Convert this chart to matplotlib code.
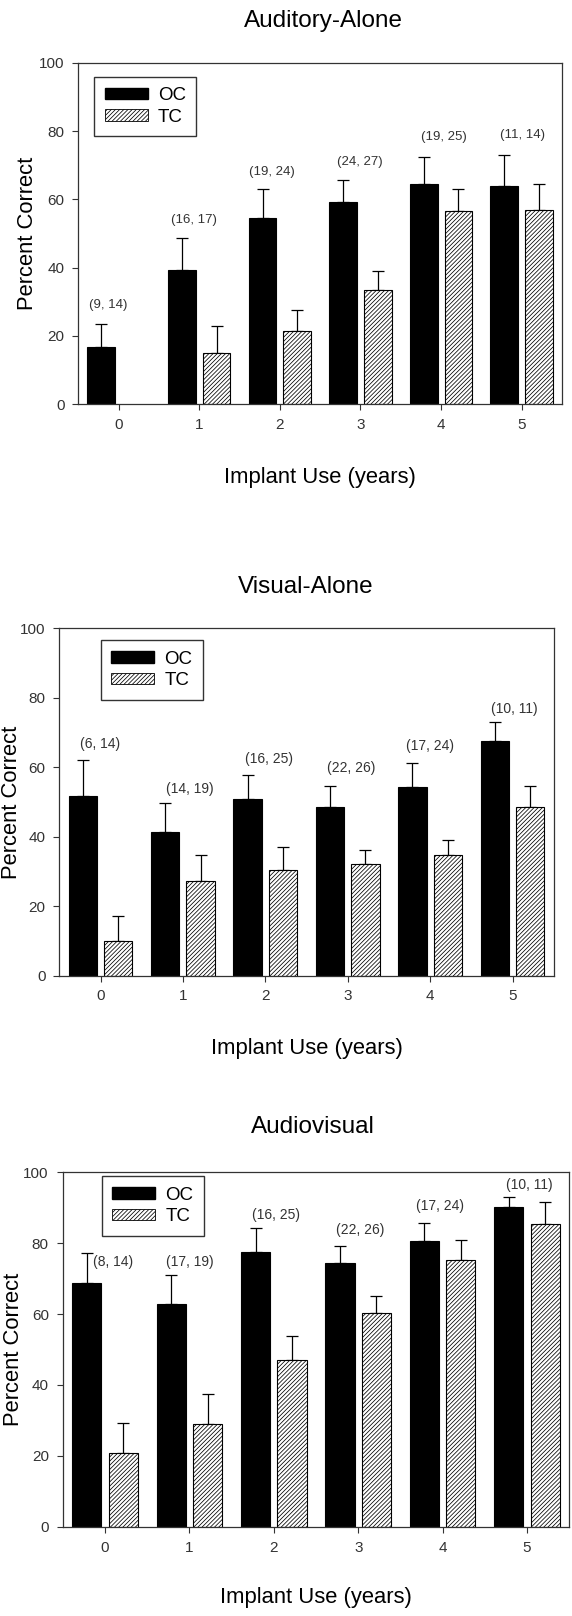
import numpy as np
import matplotlib
matplotlib.use("Agg")
import matplotlib.pyplot as plt
from matplotlib.patches import Patch

plt.rcParams['font.family'] = ['Liberation Sans', 'DejaVu Sans']
plt.rcParams['hatch.linewidth'] = 0.55

years = [0, 1, 2, 3, 4, 5]
year_labels = ['0', '1', '2', '3', '4', '5']
group_names = ['OC', 'TC']

# Auditory-Alone (mean, upper error)
aud_oc = [16.8, 39.4, 54.6, 59.1, 64.5, 63.8]
aud_oc_err = [6.6, 9.3, 8.5, 6.6, 8.0, 9.2]
aud_tc = [np.nan, 15.1, 21.6, 33.4, 56.7, 56.9]
aud_tc_err = [np.nan, 7.7, 6.1, 5.6, 6.4, 7.6]
aud_n = ['(9, 14)', '(16, 17)', '(19, 24)', '(24, 27)', '(19, 25)', '(11, 14)']

# Visual-Alone
vis_oc = [51.6, 41.3, 50.8, 48.6, 54.4, 67.5]
vis_oc_err = [10.4, 8.4, 6.9, 6.1, 6.7, 5.4]
vis_tc = [10.0, 27.2, 30.4, 32.1, 34.7, 48.6]
vis_tc_err = [7.1, 7.5, 6.6, 4.1, 4.4, 6.1]
vis_n = ['(6, 14)', '(14, 19)', '(16, 25)', '(22, 26)', '(17, 24)', '(10, 11)']

# Audiovisual
av_oc = [68.7, 62.9, 77.6, 74.5, 80.6, 90.1]
av_oc_err = [8.6, 8.2, 6.6, 4.7, 5.0, 2.8]
av_tc = [20.7, 29.1, 47.1, 60.3, 75.3, 85.3]
av_tc_err = [8.6, 8.3, 6.6, 4.7, 5.5, 6.2]
av_n = ['(8, 14)', '(17, 19)', '(16, 25)', '(22, 26)', '(17, 24)', '(10, 11)']

W, H = 572, 1616
BAR_W = 0.345
OFF = 0.215
TXT = '#333333'
HATCH = '////////'

# layout per panel: axes box in pixels (left, top, right, bottom) and text placement
panels = [
    dict(title='Auditory-Alone', oc=aud_oc, oc_err=aud_oc_err, tc=aud_tc, tc_err=aud_tc_err, n=aud_n,
         box=(78.3, 62.7, 562.0, 404.3), title_xy=(0.507, 1.105), xlab_y=-0.231, ylab_x=-0.104,
         leg_xy=(0.033, 0.959), n_size=9.5,
         n_dx=[-0.13, -0.07, -0.10, -0.01, 0.04, 0.01], n_dy=[5.6, 5.2, 4.8, 5.2, 5.8, 5.7]),
    dict(title='Visual-Alone', oc=vis_oc, oc_err=vis_oc_err, tc=vis_tc, tc_err=vis_tc_err, n=vis_n,
         box=(59.3, 628.3, 553.7, 975.6), title_xy=(0.499, 1.101), xlab_y=-0.226, ylab_x=-0.097,
         leg_xy=(0.084, 0.965), n_size=10,
         n_dx=[-0.01, 0.08, 0.04, 0.04, 0.0, 0.02], n_dy=[4.6, 3.9, 4.8, 5.2, 5.1, 3.8]),
    dict(title='Audiovisual', oc=av_oc, oc_err=av_oc_err, tc=av_tc, tc_err=av_tc_err, n=av_n,
         box=(62.7, 1172.3, 569.3, 1526.8), title_xy=(0.493, 1.110), xlab_y=-0.214, ylab_x=-0.097,
         leg_xy=(0.077, 0.989), n_size=10,
         n_dx=[0.10, 0.01, 0.03, 0.02, -0.03, 0.03], n_dy=[-2.5, 3.7, 3.7, 4.6, 4.8, 3.5]),
]


def draw_panel(ax, p):
    x = np.arange(len(years))
    oc = np.array(p['oc'], dtype=float)
    tc = np.array(p['tc'], dtype=float)
    oc_err = np.array(p['oc_err'], dtype=float)
    tc_err = np.array(p['tc_err'], dtype=float)

    ax.bar(x - OFF, oc, BAR_W, color='black', edgecolor='black', linewidth=0.8, zorder=2)
    ax.bar(x + OFF, tc, BAR_W, color='white', edgecolor='black', hatch=HATCH, linewidth=0.8, zorder=2)
    for xs, m, e in [(x - OFF, oc, oc_err), (x + OFF, tc, tc_err)]:
        ax.errorbar(xs, m, yerr=[np.zeros_like(e), e], fmt='none', ecolor='black',
                    elinewidth=0.9, capsize=4, capthick=0.9, zorder=1)

    # sample sizes above each group
    tops = np.fmax(oc + oc_err, np.nan_to_num(tc + tc_err, nan=0))
    for i, lab in enumerate(p['n']):
        ax.text(x[i] + p['n_dx'][i], tops[i] + p['n_dy'][i], lab, ha='center', va='center',
                fontsize=p['n_size'], color=TXT)

    ax.set_xlim(-0.5, 5.5)
    ax.set_ylim(0, 100)
    ax.set_xticks(x)
    ax.set_xticklabels(year_labels)
    ax.set_yticks(np.arange(0, 101, 20))
    ax.tick_params(direction='out', length=4, width=0.8, color='#333333',
                   labelsize=11, labelcolor=TXT)
    ax.tick_params(axis='x', pad=6)
    ax.tick_params(axis='y', pad=6)
    for s in ax.spines.values():
        s.set_color('#333333')
        s.set_linewidth(0.9)

    ax.text(p['title_xy'][0], p['title_xy'][1], p['title'], transform=ax.transAxes,
            ha='center', va='baseline', fontsize=17.5, color='black')
    ax.text(0.5, p['xlab_y'], 'Implant Use (years)', transform=ax.transAxes,
            ha='center', va='baseline', fontsize=15.8, color='black')
    ax.text(p['ylab_x'], 0.5, 'Percent Correct', transform=ax.transAxes, rotation=90,
            ha='center', va='center', fontsize=15.8, color='black')

    handles = [Patch(facecolor='black', edgecolor='black'),
               Patch(facecolor='white', edgecolor='black', hatch=HATCH, linewidth=0.6)]
    leg = ax.legend(handles, group_names, loc='upper left', bbox_to_anchor=p['leg_xy'],
                    borderaxespad=0, frameon=True, fancybox=False, fontsize=13.5,
                    handlelength=2.3, handleheight=0.55, handletextpad=0.55,
                    labelspacing=0.25, borderpad=0.55)
    leg.get_frame().set_edgecolor('black')
    leg.get_frame().set_linewidth(1.0)


fig = plt.figure(figsize=(W / 100, H / 100), dpi=100)
for p in panels:
    l, t, r, b = p['box']
    ax = fig.add_axes([l / W, 1 - b / H, (r - l) / W, (b - t) / H])
    draw_panel(ax, p)

fig.savefig('out.png', dpi=100)
